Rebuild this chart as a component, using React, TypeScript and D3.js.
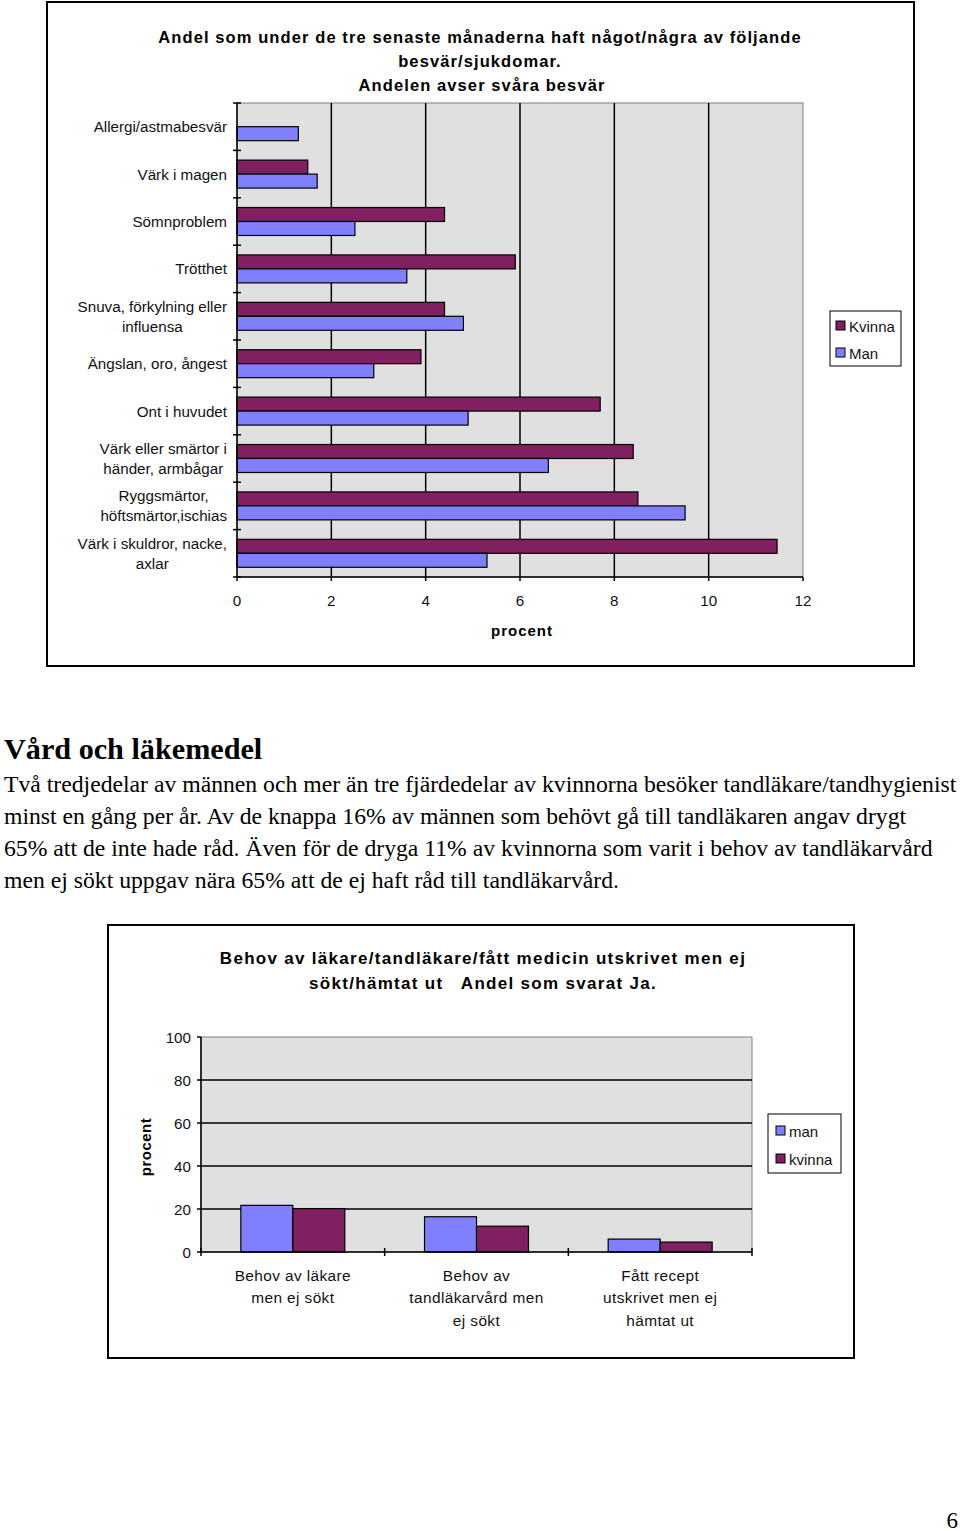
import React from "react";
import * as d3 from "d3";

// ---------- Data: chart 1 ----------
const symptomCategories: string[][] = [
  ["Allergi/astmabesvär"],
  ["Värk i magen"],
  ["Sömnproblem"],
  ["Trötthet"],
  ["Snuva, förkylning eller", "influensa"],
  ["Ängslan, oro, ångest"],
  ["Ont i huvudet"],
  ["Värk eller smärtor i", "händer, armbågar"],
  ["Ryggsmärtor,", "höftsmärtor,ischias"],
  ["Värk i skuldror, nacke,", "axlar"],
];
const kvinnaValues: (number | null)[] = [null, 1.5, 4.4, 5.9, 4.4, 3.9, 7.7, 8.4, 8.5, 11.45];
const manValues: number[] = [1.3, 1.7, 2.5, 3.6, 4.8, 2.9, 4.9, 6.6, 9.5, 5.3];
const xTicks1: number[] = [0, 2, 4, 6, 8, 10, 12];
const series1 = ["Kvinna", "Man"];

// ---------- Data: chart 2 ----------
const careCategories: string[][] = [
  ["Behov av läkare", "men ej sökt"],
  ["Behov av", "tandläkarvård men", "ej sökt"],
  ["Fått recept", "utskrivet men ej", "hämtat ut"],
];
const manCare: number[] = [21.7, 16.4, 6.0];
const kvinnaCare: number[] = [20.2, 12.0, 4.6];
const yTicks2: number[] = [0, 20, 40, 60, 80, 100];
const series2 = ["man", "kvinna"];

const paragraphLines: string[] = [
  "Två tredjedelar av männen och mer än tre fjärdedelar av kvinnorna besöker tandläkare/tandhygienist",
  "minst en gång per år. Av de knappa 16% av männen som behövt gå till tandläkaren angav drygt",
  "65% att de inte hade råd. Även för de dryga 11% av kvinnorna som varit i behov av tandläkarvård",
  "men ej sökt uppgav nära 65% att de ej haft råd till tandläkarvård.",
];

const BLUE = "#8080ff";
const PURPLE = "#802060";
const PLOT_BG = "#e0e0e0";
const SANS = "'Liberation Sans', Arial, sans-serif";
const SERIF = "'Liberation Serif', 'Times New Roman', serif";
const LBL = 15.2;

let measureCtx: CanvasRenderingContext2D | null = null;
function measure(text: string, font: string): number {
  if (!measureCtx) {
    const c = document.createElement("canvas");
    measureCtx = c.getContext("2d");
  }
  if (!measureCtx) return text.length * 7;
  measureCtx.font = font;
  return measureCtx.measureText(text).width;
}

function Chart1() {
  const left = 237, right = 803, top = 103, bottom = 577;
  const x = d3.scaleLinear().domain([0, 12]).range([left, right]);
  const idx = symptomCategories.map((_, i) => String(i));
  const y = d3.scaleBand<string>().domain(idx).range([top, bottom]).paddingInner(0.41).paddingOuter(0.205);
  const sub = d3.scaleBand<string>().domain(series1).range([0, y.bandwidth()]);
  const step = (bottom - top) / symptomCategories.length;
  const labelFont = `${LBL}px ${SANS}`;
  const titleProps = { textAnchor: "middle" as const, dominantBaseline: "central" as const, fontFamily: SANS, fontWeight: "bold", fontSize: 16.5, letterSpacing: 1.1 };
  return (
    <g>
      <rect x={47} y={2} width={867} height={664} fill="white" stroke="black" strokeWidth={2} />
      <text x={480} y={37} {...titleProps}>
        Andel som under de tre senaste månaderna haft något/några av följande
      </text>
      <text x={480} y={61} {...titleProps}>
        besvär/sjukdomar.
      </text>
      <text x={482} y={85} {...titleProps}>
        Andelen avser svåra besvär
      </text>
      <rect x={left} y={top} width={right - left} height={bottom - top} fill={PLOT_BG} stroke="#808080" strokeWidth={1} />
      {xTicks1.slice(1, -1).map((t) => (
        <line key={t} x1={x(t)} x2={x(t)} y1={top} y2={bottom} stroke="black" strokeWidth={1.5} />
      ))}
      {symptomCategories.map((_, i) => {
        const y0 = y(String(i))!;
        const k = kvinnaValues[i];
        const m = manValues[i];
        return (
          <g key={i}>
            {k != null && (
              <rect x={x(0)} y={y0 + sub("Kvinna")!} width={x(k) - x(0)} height={sub.bandwidth()} fill={PURPLE} stroke="black" strokeWidth={1.2} />
            )}
            <rect x={x(0)} y={y0 + sub("Man")!} width={x(m) - x(0)} height={sub.bandwidth()} fill={BLUE} stroke="black" strokeWidth={1.2} />
          </g>
        );
      })}
      <line x1={left} x2={left} y1={top} y2={bottom} stroke="black" strokeWidth={1.5} />
      <line x1={left} x2={right} y1={bottom} y2={bottom} stroke="black" strokeWidth={1.5} />
      {d3.range(symptomCategories.length + 1).map((i) => (
        <line key={i} x1={left - 4} x2={left + 4} y1={top + i * step} y2={top + i * step} stroke="black" strokeWidth={1.5} />
      ))}
      {xTicks1.map((t) => (
        <g key={t}>
          <line x1={x(t)} x2={x(t)} y1={bottom} y2={bottom + 4} stroke="black" strokeWidth={1.5} />
          <text x={x(t)} y={600} textAnchor="middle" dominantBaseline="central" fontFamily={SANS} fontSize={LBL} fill="#111">
            {t}
          </text>
        </g>
      ))}
      {symptomCategories.map((lines, i) => {
        const cy = y(String(i))! + y.bandwidth() / 2;
        const lh = 20;
        if (lines.length === 1) {
          return (
            <text key={i} x={227} y={cy} textAnchor="end" dominantBaseline="central" fontFamily={SANS} fontSize={LBL} fill="#111">
              {lines[0]}
            </text>
          );
        }
        const w = Math.max(...lines.map((l) => measure(l, labelFont)));
        const cx = 227 - w / 2;
        return (
          <g key={i}>
            {lines.map((l, j) => (
              <text key={j} x={cx} y={cy + (j - (lines.length - 1) / 2) * lh} textAnchor="middle" dominantBaseline="central" fontFamily={SANS} fontSize={LBL} fill="#111">
                {l}
              </text>
            ))}
          </g>
        );
      })}
      <text x={522} y={630} textAnchor="middle" dominantBaseline="central" fontFamily={SANS} fontWeight="bold" fontSize={15} letterSpacing={1}>
        procent
      </text>
      <rect x={830} y={311} width={71} height={55} fill="white" stroke="black" strokeWidth={1} />
      {series1.map((s, i) => (
        <g key={s}>
          <rect x={836} y={321 + i * 27} width={9} height={9} fill={s === "Kvinna" ? PURPLE : BLUE} stroke="black" strokeWidth={1} />
          <text x={849} y={326 + i * 27} dominantBaseline="central" fontFamily={SANS} fontSize={15} fill="#111">
            {s}
          </text>
        </g>
      ))}
    </g>
  );
}

function Chart2() {
  const left = 201, right = 752, top = 1037, bottom = 1252;
  const y = d3.scaleLinear().domain([0, 100]).range([bottom, top]);
  const idx = careCategories.map((_, i) => String(i));
  const x = d3.scaleBand<string>().domain(idx).range([left, right]).paddingInner(0.434).paddingOuter(0.217);
  const sub = d3.scaleBand<string>().domain(series2).range([0, x.bandwidth()]);
  const step = (right - left) / careCategories.length;
  const titleProps = { textAnchor: "middle" as const, dominantBaseline: "central" as const, fontFamily: SANS, fontWeight: "bold", fontSize: 17, letterSpacing: 1.3 };
  return (
    <g>
      <rect x={108} y={925} width={746} height={433} fill="white" stroke="black" strokeWidth={2} />
      <text x={483} y={958} {...titleProps}>
        Behov av läkare/tandläkare/fått medicin utskrivet men ej
      </text>
      <text x={483} y={983} {...titleProps} style={{ whiteSpace: "pre" }}>
        {"sökt/hämtat ut   Andel som svarat Ja."}
      </text>
      <rect x={left} y={top} width={right - left} height={bottom - top} fill={PLOT_BG} stroke="#808080" strokeWidth={1} />
      {yTicks2.slice(1, -1).map((t) => (
        <line key={t} x1={left} x2={right} y1={y(t)} y2={y(t)} stroke="black" strokeWidth={1.5} />
      ))}
      {careCategories.map((_, i) => {
        const x0 = x(String(i))!;
        return (
          <g key={i}>
            <rect x={x0 + sub("man")!} y={y(manCare[i])} width={sub.bandwidth()} height={y(0) - y(manCare[i])} fill={BLUE} stroke="black" strokeWidth={1.2} />
            <rect x={x0 + sub("kvinna")!} y={y(kvinnaCare[i])} width={sub.bandwidth()} height={y(0) - y(kvinnaCare[i])} fill={PURPLE} stroke="black" strokeWidth={1.2} />
          </g>
        );
      })}
      <line x1={left} x2={left} y1={top} y2={bottom} stroke="black" strokeWidth={1.5} />
      <line x1={left} x2={right} y1={bottom} y2={bottom} stroke="black" strokeWidth={1.5} />
      {yTicks2.map((t) => (
        <g key={t}>
          <line x1={left - 4} x2={left} y1={y(t)} y2={y(t)} stroke="black" strokeWidth={1.5} />
          <text x={191} y={y(t)} textAnchor="end" dominantBaseline="central" fontFamily={SANS} fontSize={LBL} fill="#111">
            {t}
          </text>
        </g>
      ))}
      {d3.range(careCategories.length + 1).map((i) => (
        <line key={i} x1={left + i * step} x2={left + i * step} y1={bottom - 4} y2={bottom + 4} stroke="black" strokeWidth={1.5} />
      ))}
      {careCategories.map((lines, i) => {
        const cx = x(String(i))! + x.bandwidth() / 2;
        return (
          <g key={i}>
            {lines.map((l, j) => (
              <text key={j} x={cx} y={1275 + j * 22.5} textAnchor="middle" dominantBaseline="central" fontFamily={SANS} fontSize={15.4} letterSpacing={0.4} fill="#111">
                {l}
              </text>
            ))}
          </g>
        );
      })}
      <text transform={`translate(145,1147) rotate(-90)`} textAnchor="middle" dominantBaseline="central" fontFamily={SANS} fontWeight="bold" fontSize={15} letterSpacing={0.5}>
        procent
      </text>
      <rect x={768} y={1114} width={73} height={59} fill="white" stroke="black" strokeWidth={1} />
      {series2.map((s, i) => (
        <g key={s}>
          <rect x={776} y={1126 + i * 28} width={9} height={9} fill={s === "kvinna" ? PURPLE : BLUE} stroke="black" strokeWidth={1} />
          <text x={789} y={1131 + i * 28} dominantBaseline="central" fontFamily={SANS} fontSize={15} fill="#111">
            {s}
          </text>
        </g>
      ))}
    </g>
  );
}

export default function App() {
  return (
    <svg width={960} height={1531} style={{ position: "absolute", left: 0, top: 0, background: "white" }}>
      <rect x={0} y={0} width={960} height={1531} fill="white" />
      <Chart1 />
      <text x={4} y={749} dominantBaseline="central" fontFamily={SERIF} fontWeight="bold" fontSize={30.2}>
        Vård och läkemedel
      </text>
      {paragraphLines.map((l, i) => (
        <text key={i} x={4} y={784 + i * 32} dominantBaseline="central" fontFamily={SERIF} fontSize={23.7}>
          {l}
        </text>
      ))}
      <Chart2 />
      <text x={958} y={1520} textAnchor="end" dominantBaseline="central" fontFamily={SERIF} fontSize={23}>
        6
      </text>
    </svg>
  );
}
